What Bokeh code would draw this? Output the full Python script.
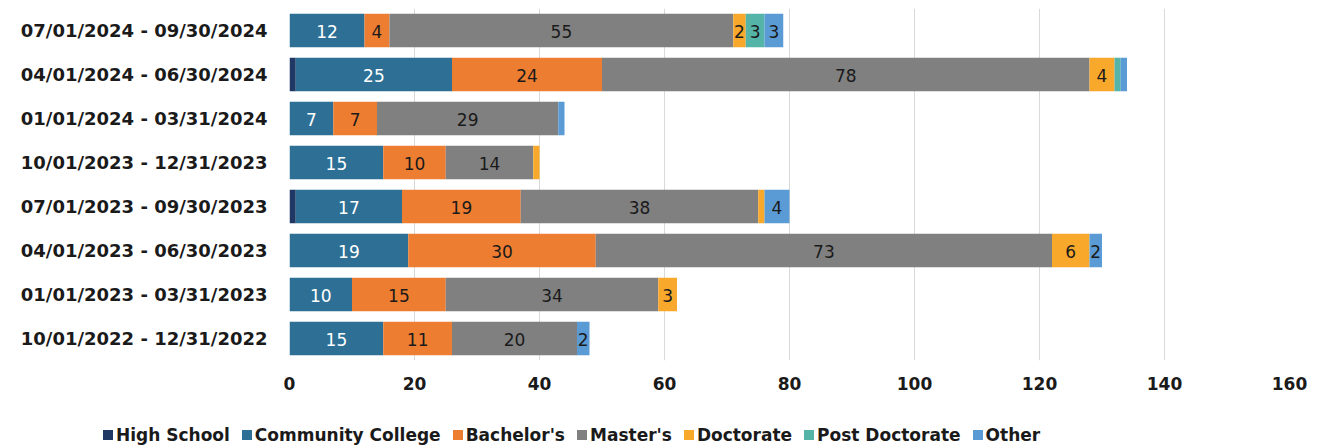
import numpy as np
from bokeh.plotting import figure
from bokeh.layouts import column
from bokeh.models import ColumnDataSource, FactorRange, Range1d, FixedTicker, Div
from bokeh.core.properties import value
from bokeh.embed import file_html
from bokeh.resources import INLINE

# Quarterly reporting periods (bottom to top)
periods = [
    "10/01/2022 - 12/31/2022",
    "01/01/2023 - 03/31/2023",
    "04/01/2023 - 06/30/2023",
    "07/01/2023 - 09/30/2023",
    "10/01/2023 - 12/31/2023",
    "01/01/2024 - 03/31/2024",
    "04/01/2024 - 06/30/2024",
    "07/01/2024 - 09/30/2024",
]

# Counts by highest education level
high_school = [0, 0, 0, 1, 0, 0, 1, 0]
community_college = [15, 10, 19, 17, 15, 7, 25, 12]
bachelors = [11, 15, 30, 19, 10, 7, 24, 4]
masters = [20, 34, 73, 38, 14, 29, 78, 55]
doctorate = [0, 3, 6, 1, 1, 0, 4, 2]
post_doctorate = [0, 0, 0, 0, 0, 0, 1, 3]
other = [2, 0, 2, 4, 0, 1, 1, 3]

levels = ["High School", "Community College", "Bachelor's", "Master's",
          "Doctorate", "Post Doctorate", "Other"]
series = [high_school, community_college, bachelors, masters,
          doctorate, post_doctorate, other]
colors = ["#1F3864", "#2E7095", "#ED7D31", "#808080",
          "#F8A92B", "#55B4A8", "#5B9BD5"]
label_colors = ["#1a1a1a", "#ffffff", "#1a1a1a", "#1a1a1a",
                "#1a1a1a", "#1a1a1a", "#1a1a1a"]

x_ticks = [0, 20, 40, 60, 80, 100, 120, 140, 160]

FONT = "DejaVu Sans"
TEXT_COLOR = "#1a1a1a"

data = {"period": periods}
for name, vals in zip(levels, series):
    data[name] = vals
source = ColumnDataSource(data)

p = figure(
    frame_width=1000, frame_height=352,
    y_range=FactorRange(*periods, range_padding=0.0),
    x_range=Range1d(0, 160),
    output_backend="svg", toolbar_location=None,
    min_border_left=289, min_border_right=35, min_border_top=8,
    min_border_bottom=32,
)

p.hbar_stack(levels, y="period", height=0.76, color=colors,
             line_width=0, source=source)

# value labels centred on each segment (shown when the segment is wide enough)
arr = np.array(series, dtype=float)
ends = np.cumsum(arr, axis=0)
starts = ends - arr
for i in range(len(levels)):
    xs, ys, txt = [], [], []
    for j, period in enumerate(periods):
        v = arr[i, j]
        if v >= 2:
            xs.append((starts[i, j] + ends[i, j]) / 2)
            ys.append(period)
            txt.append(str(int(v)))
    if xs:
        p.text(x=xs, y=ys, text=txt, text_align="center", text_baseline="middle",
               text_color=label_colors[i], text_font=value(FONT),
               text_font_size="17px", y_offset=1)

p.xaxis.ticker = FixedTicker(ticks=x_ticks)
p.xaxis.axis_line_color = None
p.xaxis.major_tick_line_color = None
p.xaxis.minor_tick_line_color = None
p.xaxis.major_label_standoff = 10
p.xaxis.major_label_text_font = FONT
p.xaxis.major_label_text_font_size = "17px"
p.xaxis.major_label_text_font_style = "bold"
p.xaxis.major_label_text_color = TEXT_COLOR

p.yaxis.axis_line_color = None
p.yaxis.major_tick_line_color = None
p.yaxis.minor_tick_line_color = None
p.yaxis.major_label_standoff = 16
p.yaxis.major_label_text_font = FONT
p.yaxis.major_label_text_font_size = "18px"
p.yaxis.major_label_text_font_style = "bold"
p.yaxis.major_label_text_color = TEXT_COLOR

p.ygrid.grid_line_color = None
p.xgrid.grid_line_color = "#D9D9D9"
p.outline_line_color = None

# legend row underneath the chart: a swatch and a label per education level
entries = "".join(
    '<span style="display:inline-flex;align-items:center;margin-right:12px;">'
    f'<span style="display:inline-block;width:10px;height:10px;background:{c};'
    f'margin-right:3px;"></span>{name}</span>'
    for name, c in zip(levels, colors)
)
legend_html = (
    f'<div style="display:flex;align-items:center;white-space:nowrap;'
    f'padding-left:103px;padding-top:33px;line-height:20px;'
    f"font-family:'{FONT}';font-weight:bold;font-size:17px;color:{TEXT_COLOR};\">"
    f"{entries}</div>"
)
legend_div = Div(text=legend_html, width=1324, height=56, margin=0)

layout = column(p, legend_div, spacing=0)

open("out.html", "w").write(file_html(layout, INLINE))
